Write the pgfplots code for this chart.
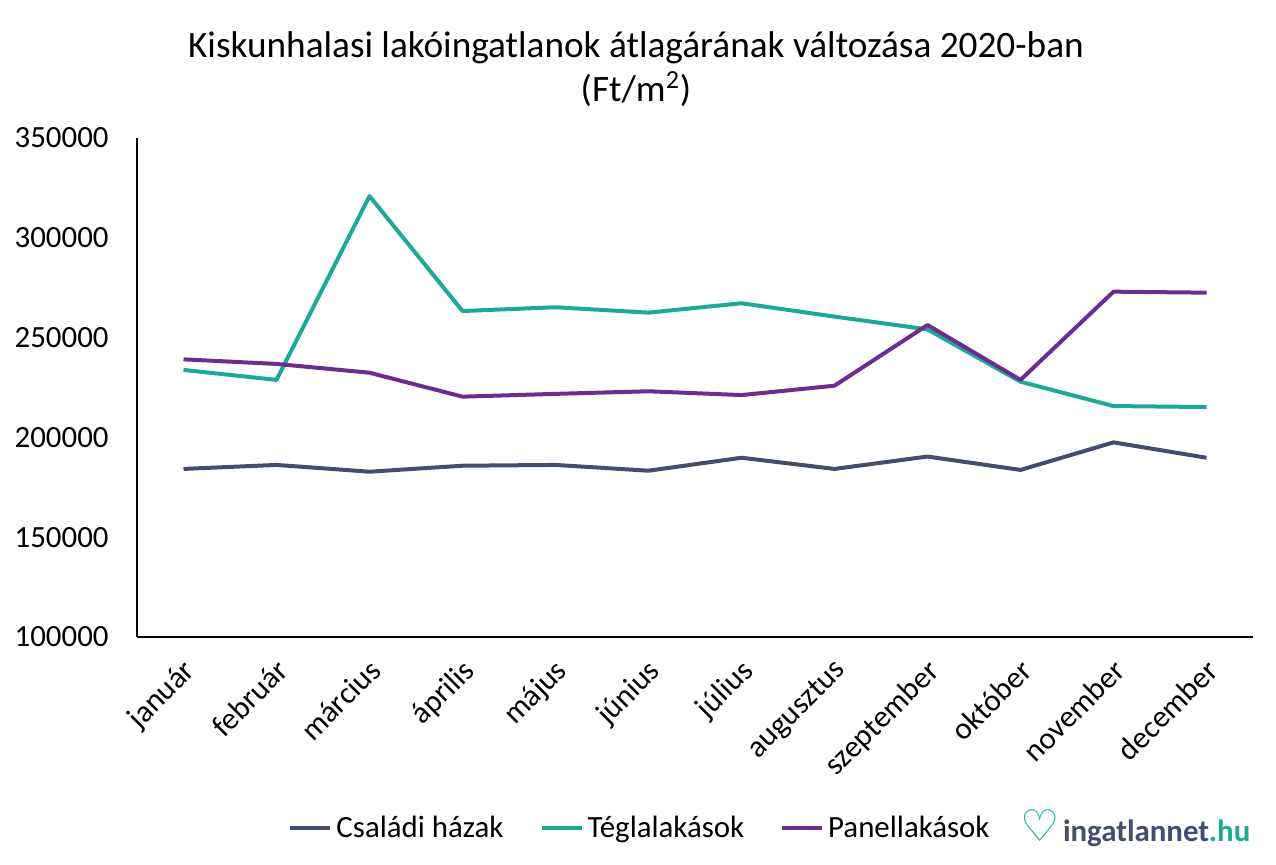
\documentclass[border=0pt]{standalone}
\usepackage{pgfplots}
\pgfplotsset{compat=1.18}
\usepackage{fontspec}
\setmainfont{Carlito}
\newfontfamily\dejavu{DejaVu Sans}
\definecolor{csal}{HTML}{464C6E}
\definecolor{tegla}{HTML}{1FA898}
\definecolor{panel}{HTML}{6B2D8F}
\begin{document}
\begin{tikzpicture}[x=1bp,y=1bp]
\useasboundingbox (0,0) rectangle (638,432.5);
\node[font=\fontsize{18.7}{22}\selectfont, align=center] at (318,398) {Kiskunhalasi lakóingatlanok átlagárának változása 2020-ban\\(Ft/m\textsuperscript{2})};
\begin{axis}[
  at={(68.5bp,114bp)}, anchor=south west,
  scale only axis, width=558bp, height=249.5bp,
  xmin=-0.5, xmax=11.5, ymin=100000, ymax=350000,
  axis lines*=left, axis line style={black, line width=0.6bp, -},
  ytick={100000,150000,200000,250000,300000,350000},
  yticklabels={100000,150000,200000,250000,300000,350000},
  scaled y ticks=false,
  xtick={0,...,11},
  xticklabels={január,február,március,április,május,június,július,augusztus,szeptember,október,november,december},
  major tick length=0pt,
  tick label style={font=\fontsize{15.5}{18}\selectfont},
  yticklabel style={anchor=east, inner sep=0pt, xshift=-14bp},
  xticklabel style={xshift=-1bp, yshift=-10bp, rotate=45, anchor=north east, inner sep=0pt},
  legend columns=3,
  legend style={at={(0.4516,-0.383)}, anchor=center, draw=none, font=\fontsize{15.5}{18}\selectfont,
    /tikz/every even column/.append style={column sep=16bp}},
  legend image code/.code={\draw[#1] (0bp,0bp) -- (20bp,0bp);},
  every axis plot/.append style={line width=2bp, line join=round},
]
\addplot[csal, mark=none] coordinates {(0,184200) (1,186200) (2,182800) (3,185800) (4,186200) (5,183300) (6,189800) (7,184200) (8,190400) (9,183700) (10,197500) (11,189800)};
\addplot[tegla, mark=none] coordinates {(0,233800) (1,228800) (2,320900) (3,263300) (4,265200) (5,262500) (6,267200) (7,260500) (8,254100) (9,227900) (10,215700) (11,215200)};
\addplot[panel, mark=none] coordinates {(0,239100) (1,236800) (2,232400) (3,220400) (4,221800) (5,223100) (6,221200) (7,225900) (8,256300) (9,228800) (10,273000) (11,272500)};
\legend{Családi házak, Téglalakások, Panellakások}
\end{axis}
\node[anchor=west, inner sep=0pt] at (510,18.5) {{\dejavu\bfseries\fontsize{22}{22}\selectfont\textcolor{tegla}{♡}}\,{\fontsize{15.5}{20}\selectfont\bfseries\textcolor{csal}{ingatlannet}\textcolor{tegla}{.hu}}};
\end{tikzpicture}
\end{document}
